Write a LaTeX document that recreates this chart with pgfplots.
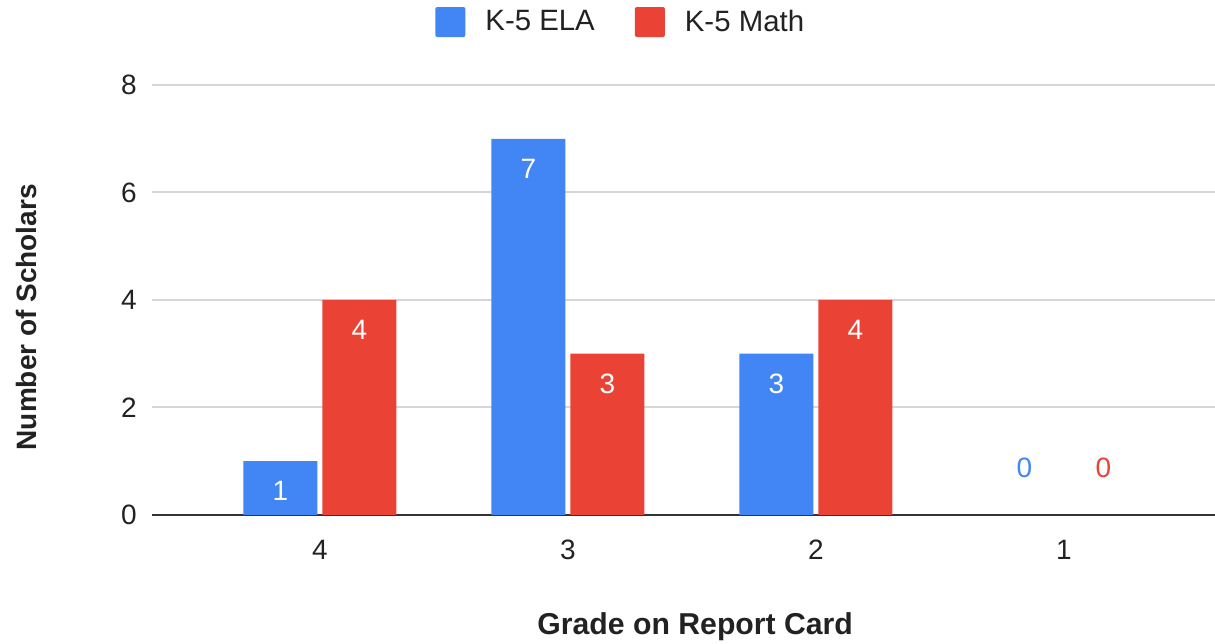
\documentclass[border=0pt]{standalone}
\usepackage{pgfplots}
\pgfplotsset{compat=1.18}
\usepackage{fontspec}
\setmainfont{Liberation Sans}
\definecolor{elablue}{HTML}{4285F4}
\definecolor{mathred}{HTML}{EA4335}
\definecolor{gridgray}{HTML}{D6D6D6}
\definecolor{basegray}{HTML}{333333}
\definecolor{txt}{HTML}{222222}
\begin{document}
\begin{tikzpicture}
\begin{axis}[
  name=ax,
  scale only axis, width=531.5pt, height=215pt,
  ybar, bar width=37pt,
  xmin=-0.677, xmax=3.609,
  ymin=0, ymax=8,
  ytick={2,4,6,8},
  extra y ticks={0},
  extra y tick style={grid style={color=basegray, line width=1pt}},
  xtick={0,1,2,3}, xticklabels={4,3,2,1},
  axis line style={draw=none},
  major tick length=0pt,
  ymajorgrids,
  grid style={color=gridgray, line width=1pt},
  /pgf/number format/assume math mode=true,
  tick label style={font=\fontsize{14}{16.8}\selectfont, text=txt, inner sep=0pt},
  yticklabel shift=7.5pt,
  xticklabel shift=12.5pt,
  xlabel={Grade on Report Card},
  ylabel={Number of Scholars},
  label style={text=txt},
  xlabel style={at={(rel axis cs:0.511,-0.2605)}, anchor=center, font=\fontsize{15.1}{18}\selectfont\bfseries},
  ylabel style={at={(rel axis cs:-0.1185,0.46)}, anchor=center, font=\fontsize{14}{16.8}\selectfont\bfseries},
  legend columns=2,
  legend style={at={(rel axis cs:0.441,1.1465)}, anchor=center, draw=none,
    font=\fontsize{14.7}{17}\selectfont, text=txt,
    /tikz/every odd column/.append style={column sep=9pt},
    /tikz/every even column/.append style={column sep=19pt},
    nodes={inner sep=1pt}},
  legend image code/.code={\fill[#1, draw=none, rounded corners=1pt] (0pt,-7.5pt) rectangle (15pt,7.5pt);},
]
\addplot[fill=elablue, draw=none, bar shift=-19.75pt,
  nodes near coords,
  every node near coord/.append style={anchor=center, yshift=-15pt, text=white, font=\fontsize{14}{16.8}\selectfont}]
  coordinates {(0,1) (1,7) (2,3)};
\addlegendentry{K-5 ELA}
\addplot[fill=mathred, draw=none, bar shift=19.75pt,
  nodes near coords,
  every node near coord/.append style={anchor=center, yshift=-15pt, text=white, font=\fontsize{14}{16.8}\selectfont}]
  coordinates {(0,4) (1,3) (2,4)};
\addlegendentry{K-5 Math}
\addplot[fill=none, draw=none, bar shift=-19.75pt, forget plot,
  nodes near coords,
  every node near coord/.append style={anchor=center, yshift=23.5pt, text=elablue, font=\fontsize{14}{16.8}\selectfont}]
  coordinates {(3,0)};
\addplot[fill=none, draw=none, bar shift=19.75pt, forget plot,
  nodes near coords,
  every node near coord/.append style={anchor=center, yshift=23.5pt, text=mathred, font=\fontsize{14}{16.8}\selectfont}]
  coordinates {(3,0)};
\coordinate (pasw) at (rel axis cs:0,0);
\coordinate (pane) at (rel axis cs:1,1);
\end{axis}
\pgfresetboundingbox
\path[use as bounding box] ([xshift=-76pt,yshift=-64.5pt]pasw) rectangle ([yshift=42.5pt]pane);
\end{tikzpicture}
\end{document}
